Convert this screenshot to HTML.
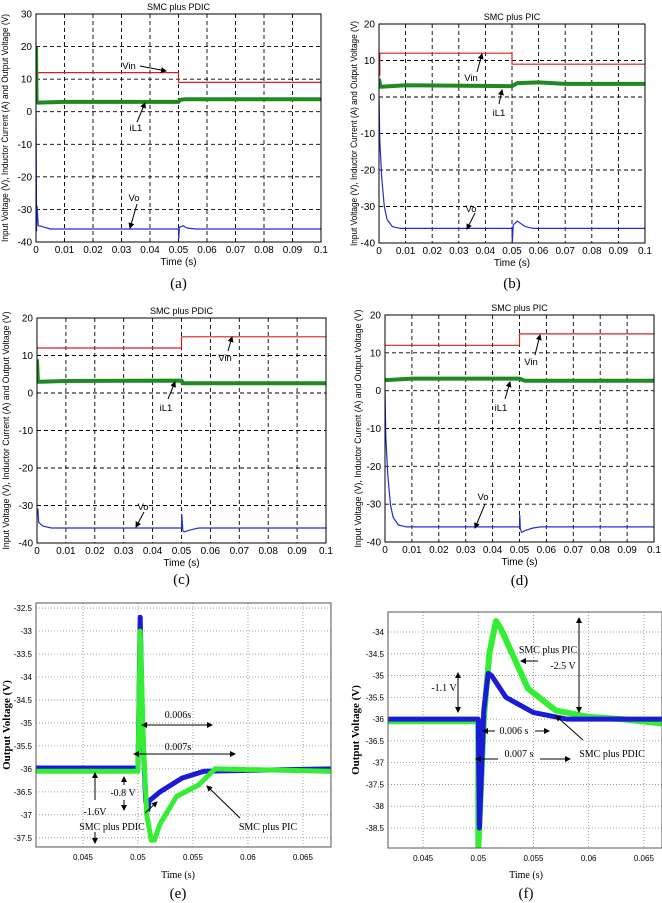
<!DOCTYPE html>
<html><head><meta charset="utf-8"><style>
html,body{margin:0;padding:0;background:#fff;width:662px;height:903px;overflow:hidden}
svg{display:block}
</style></head><body>
<svg id="fig" width="662" height="903" viewBox="0 0 662 903" xmlns="http://www.w3.org/2000/svg">
<defs>
<marker id="ah" markerWidth="6" markerHeight="6" refX="5" refY="3" orient="auto"><path d="M0,0 L6,3 L0,6 z" fill="#000"/></marker>
</defs>
</svg>
<script>
// ---- data arrays ----
const yTicksAB_a = [-40,-30,-20,-10,0,10,20,30];
const yTicksAB_b = [-40,-30,-20,-10,0,10,20];
const xTicksTime = [0,0.01,0.02,0.03,0.04,0.05,0.06,0.07,0.08,0.09,0.1];
const xTickLabelsTime = ["0","0.01","0.02","0.03","0.04","0.05","0.06","0.07","0.08","0.09","0.1"];

// panel a
const aVinT = [0,0.0003,0.0003,0.05,0.05,0.1];
const aVinV = [7,7,12,12,9,9];
const aIlT = [0,0.0002,0.0006,0.01,0.05,0.0505,0.052,0.1];
const aIlV = [20,3,2.8,3,3,3.6,3.8,3.8];
const aVoT = [0,0.0002,0.0004,0.0008,0.002,0.005,0.05,0.0501,0.0503,0.0515,0.053,0.056,0.1];
const aVoV = [0,-36.5,-29,-35,-35.2,-36,-36,-39,-35.5,-35,-35.7,-36,-36];
// panel b
const bVinT = [0,0.0003,0.0003,0.05,0.05,0.1];
const bVinV = [6,6,12,12,9,9];
const bIlT = [0,0.0005,0.01,0.05,0.052,0.06,0.07,0.1];
const bIlV = [5,2.8,3.2,3,3.8,4,3.6,3.6];
const bVoT = [0,0.0003,0.001,0.002,0.003,0.005,0.008,0.05,0.0501,0.0505,0.052,0.055,0.058,0.1];
const bVoV = [0,-12,-22,-30,-33.5,-35.5,-36,-36,-40,-35,-34,-35.5,-36,-36];
// panel c
const cVinT = [0,0.05,0.05,0.1];
const cVinV = [12,12,15,15];
const cIlT = [0,0.0003,0.001,0.01,0.05,0.0505,0.1];
const cIlV = [9,3,3,3.2,3.3,2.6,2.6];
const cVoT = [0,0.0003,0.0006,0.002,0.005,0.05,0.0501,0.0505,0.051,0.053,0.056,0.1];
const cVoV = [-31,-31,-34.5,-35.5,-36,-36,-32.5,-36.8,-37,-36.5,-36,-36];
// panel d
const dVinT = [0,0.05,0.05,0.1];
const dVinV = [12,12,15,15];
const dIlT = [0,0.0005,0.01,0.05,0.052,0.1];
const dIlV = [3,2.8,3.2,3.2,2.6,2.6];
const dVoT = [0,0.0003,0.001,0.002,0.003,0.005,0.008,0.05,0.0501,0.0503,0.0508,0.052,0.055,0.058,0.1];
const dVoV = [0,-12,-22,-30,-33.5,-35.5,-36,-36,-33,-36.5,-37.5,-37,-36.3,-36,-36];
// panel e
const eYTicks = [-32.5,-33,-33.5,-34,-34.5,-35,-35.5,-36,-36.5,-37,-37.5];
const eXTicks = [0.045,0.05,0.055,0.06,0.065];
const eBlueT = [0.0407,0.05,0.0502,0.0504,0.0507,0.0509,0.051,0.052,0.054,0.056,0.0675];
const eBlueV = [-35.98,-35.98,-32.7,-35,-36.7,-36.9,-36.7,-36.5,-36.2,-36.05,-36];
const eGreenT = [0.0407,0.05,0.0502,0.0505,0.0508,0.0512,0.0515,0.052,0.0535,0.0555,0.057,0.0675];
const eGreenV = [-36.05,-36.05,-33,-35.5,-37,-37.55,-37.55,-37.2,-36.6,-36.35,-36,-36.05];
// panel f
const fYTicks = [-34,-34.5,-35,-35.5,-36,-36.5,-37,-37.5,-38,-38.5];
const fXTicks = [0.045,0.05,0.055,0.06,0.065];
const fGreenT = [0.0418,0.05,0.05,0.0505,0.051,0.0516,0.052,0.0545,0.057,0.06,0.063,0.0666];
const fGreenV = [-36.05,-36.05,-39,-36,-34.5,-33.75,-33.9,-35.3,-35.8,-35.95,-36,-36.1];
const fBlueT = [0.0418,0.05,0.0501,0.0505,0.0509,0.0512,0.0525,0.055,0.058,0.0666];
const fBlueV = [-36,-36,-38.5,-35.8,-34.95,-35,-35.5,-35.85,-36,-36];

const NS="http://www.w3.org/2000/svg";
const svg=document.getElementById('fig');
function el(tag,attrs,parent,text){const e=document.createElementNS(NS,tag);for(const k in attrs)e.setAttribute(k,attrs[k]);if(text!==undefined)e.textContent=text;(parent||svg).appendChild(e);return e;}

function axes(p){
  const sx=t=>p.x0+(t-p.t0)/(p.t1-p.t0)*(p.x1-p.x0);
  const sy=v=>p.y1-(v-p.v0)/(p.v1-p.v0)*(p.y1-p.y0);
  return {sx,sy};
}
function line(p,ax,T,V,color,w,name){
  let d='';for(let i=0;i<T.length;i++){d+=(i?'L':'M')+ax.sx(T[i]).toFixed(1)+','+ax.sy(V[i]).toFixed(1);}
  const e=el('path',{d:d,fill:'none',stroke:color,'stroke-width':w,'stroke-linejoin':'round','clip-path':'url(#'+p.id+'clip)'});
  
  
}
function arrow(x1,y1,x2,y2,name,both){
  const a={x1,y1,x2,y2,stroke:'#000','stroke-width':1,'marker-end':'url(#ah)'};
  if(both)a['marker-start']='url(#ahs)';
  const e=el('line',a);
  
  
}
el('marker',{id:'ahs',markerWidth:6,markerHeight:6,refX:1,refY:3,orient:'auto'},svg.querySelector('defs')).appendChild((()=>{const p=document.createElementNS(NS,'path');p.setAttribute('d','M6,0 L0,3 L6,6 z');return p;})());

function simPanel(p){
  const g=el('g',{});
  
  
  const cp=el('clipPath',{id:p.id+'clip'},svg.querySelector('defs'));
  el('rect',{x:p.x0,y:p.y0,width:p.x1-p.x0,height:p.y1-p.y0},cp);
  const ax=axes(p);
  el('rect',{x:p.x0,y:p.y0,width:p.x1-p.x0,height:p.y1-p.y0,fill:'#fff',stroke:'none'});
  xTicksTime.forEach((t,i)=>{
    const x=ax.sx(t);
    if(i>0&&i<xTicksTime.length-1){const gl=el('line',{x1:x,y1:p.y0,x2:x,y2:p.y1,stroke:'#000','stroke-width':0.9,'stroke-dasharray':'4,3'});}
    const tl=el('text',{x:x,y:p.y1+11,'font-size':10,'text-anchor':'middle','font-family':'Liberation Sans, sans-serif'},null,xTickLabelsTime[i]);
    
  });
  p.yt.forEach((v,i)=>{
    const y=ax.sy(v);
    if(i>0&&i<p.yt.length-1){const gl=el('line',{x1:p.x0,y1:y,x2:p.x1,y2:y,stroke:'#000','stroke-width':0.9,'stroke-dasharray':'4,3'});}
    const tl=el('text',{x:p.x0-4,y:y+3.5,'font-size':10,'text-anchor':'end','font-family':'Liberation Sans, sans-serif'},null,String(v));
    
  });
  line(p,ax,p.vinT,p.vinV,'#d62020',1.2,'vin-line');
  line(p,ax,p.ilT,p.ilV,'#1f8a1f',4,'il1-line');
  line(p,ax,p.voT,p.voV,'#2030d0',1.2,'vo-line');
  const fr=el('rect',{x:p.x0,y:p.y0,width:p.x1-p.x0,height:p.y1-p.y0,fill:'none',stroke:'#000','stroke-width':1});
  
  const ti=el('text',{x:(p.x0+p.x1)/2,y:p.y0-4,'font-size':9,'text-anchor':'middle','font-family':'Liberation Sans, sans-serif'},null,p.title);
  
  const xl=el('text',{x:(p.x0+p.x1)/2,y:p.y1+23,'font-size':10,'text-anchor':'middle','font-family':'Liberation Sans, sans-serif'},null,'Time (s)');
  
  const yc=(p.y0+p.y1)/2;
  const yl=el('text',{x:p.ylx,y:yc,'font-size':9.5,'text-anchor':'middle','font-family':'Liberation Sans, sans-serif',transform:'rotate(-90 '+p.ylx+' '+yc+')',textLength:p.ylen,lengthAdjust:'spacingAndGlyphs'},null,'Input Voltage (V), Inductor Current (A) and Output Voltage (V)');
  
  const cap=el('text',{x:(p.x0+p.x1)/2,y:p.capy,'font-size':15,'text-anchor':'middle','font-family':'Liberation Serif, serif'},null,p.cap);
  
  p.ann.forEach(a=>{
    const t=el('text',{x:a[0],y:a[1],'font-size':9.5,'text-anchor':'middle','font-family':'Liberation Sans, sans-serif'},null,a[2]);
    
    arrow(a[3],a[4],a[5],a[6],'annotation-arrow');
  });
}

simPanel({id:'a',x0:36,x1:321,y0:14,y1:242,t0:0,t1:0.1,v0:-40,v1:30,yt:yTicksAB_a,title:'SMC plus PDIC',cap:'(a)',capy:288,ylx:8,ylen:228,
  vinT:aVinT,vinV:aVinV,ilT:aIlT,ilV:aIlV,voT:aVoT,voV:aVoV,
  ann:[[129,69,'Vin',140,66,166,71],[136,131,'iL1',137,122,145,103],[134,201,'Vo',137,204,130,228]]});
simPanel({id:'b',x0:379,x1:645,y0:24,y1:243,t0:0,t1:0.1,v0:-40,v1:20,yt:yTicksAB_b,title:'SMC plus PIC',cap:'(b)',capy:288,ylx:357,ylen:225,
  vinT:bVinT,vinV:bVinV,ilT:bIlT,ilV:bIlV,voT:bVoT,voV:bVoV,
  ann:[[471,81,'Vin',477,72,482,54],[499,116,'iL1',499,104,502,90],[471,212,'Vo',475,213,467,229]]});
simPanel({id:'c',x0:37,x1:326,y0:318,y1:543,t0:0,t1:0.1,v0:-40,v1:20,yt:yTicksAB_b,title:'SMC plus PDIC',cap:'(c)',capy:584,ylx:9,ylen:238,
  vinT:cVinT,vinV:cVinV,ilT:cIlT,ilV:cIlV,voT:cVoT,voV:cVoV,
  ann:[[225,361,'Vin',228,351,232,337],[166,411,'iL1',168,399,175,382],[143,510,'Vo',144,512,136,527]]});
simPanel({id:'d',x0:385,x1:654,y0:315,y1:542,t0:0,t1:0.1,v0:-40,v1:20,yt:yTicksAB_b,title:'SMC plus PIC',cap:'(d)',capy:585,ylx:361,ylen:238,
  vinT:dVinT,vinV:dVinV,ilT:dIlT,ilV:dIlV,voT:dVoT,voV:dVoV,
  ann:[[531,365,'Vin',535,355,540,335],[501,411,'iL1',505,399,510,382],[483,500,'Vo',485,504,475,528]]});

function zoomPanel(p){
  const g=el('g',{});
  
  
  const cp=el('clipPath',{id:p.id+'clip'},svg.querySelector('defs'));
  el('rect',{x:p.x0,y:p.y0,width:p.x1-p.x0,height:p.y1-p.y0},cp);
  const ax=axes(p);
  p.xt.forEach(t=>{
    const x=ax.sx(t);
    const gl=el('line',{x1:x,y1:p.y0,x2:x,y2:p.y1,stroke:'#888','stroke-width':0.8,'stroke-dasharray':'1,2'});
    const tl=el('text',{x:x,y:p.y1+13,'font-size':8,'text-anchor':'middle','font-family':'Liberation Sans Narrow, Liberation Sans, sans-serif'},null,String(t));
    
  });
  p.yt.forEach(v=>{
    const y=ax.sy(v);
    const gl=el('line',{x1:p.x0,y1:y,x2:p.x1,y2:y,stroke:'#888','stroke-width':0.8,'stroke-dasharray':'1,2'});
    const tl=el('text',{x:p.x0-4,y:y+3,'font-size':8,'text-anchor':'end','font-family':'Liberation Sans Narrow, Liberation Sans, sans-serif'},null,String(v));
    
  });
  p.series.forEach(s=>line(p,ax,s[0],s[1],s[2],s[3],s[4]));
  const fr=el('rect',{x:p.x0,y:p.y0,width:p.x1-p.x0,height:p.y1-p.y0,fill:'none',stroke:'#555','stroke-width':1});
  
  const xl=el('text',{x:p.xlx,y:p.xly,'font-size':10,'text-anchor':'middle','font-family':'Liberation Serif, serif'},null,'Time (s)');
  
  const yc=(p.y0+p.y1)/2;
  const yl=el('text',{x:p.ylx,y:yc,'font-size':11,'font-weight':'bold','text-anchor':'middle','font-family':'Liberation Serif, serif',transform:'rotate(-90 '+p.ylx+' '+yc+')'},null,'Output Voltage (V)');
  
  const cap=el('text',{x:p.xlx,y:p.capy,'font-size':15,'text-anchor':'middle','font-family':'Liberation Serif, serif'},null,p.cap);
  
  p.texts.forEach(a=>{
    const t=el('text',{x:a[0],y:a[1],'font-size':10,'text-anchor':'middle','font-family':'Liberation Serif, serif'},null,a[2]);
    
  });
  p.arrows.forEach(a=>arrow(a[0],a[1],a[2],a[3],'annotation-arrow',a[4]));
}

zoomPanel({id:'e',x0:36,x1:331,y0:603,y1:847,t0:0.04073,t1:0.06755,v0:-37.7,v1:-32.39,xt:eXTicks,yt:eYTicks,cap:'(e)',capy:898,xlx:178,xly:878,ylx:10,
  series:[[eBlueT,eBlueV,'#1a1ad8',5,'smc-pdic-line'],[eGreenT,eGreenV,'#33ee33',5,'smc-pic-line']],
  texts:[[178,718,'0.006s'],[178,750,'0.007s'],[123,796,'-0.8 V'],[95,815,'-1.6V'],[112,830,'SMC plus PDIC'],[268,830,'SMC plus PIC']],
  arrows:[[142,725,212,725,true],[134,754,235,754,true],[124,785,124,777],[124,800,124,810],[95,800,95,773],[95,832,95,843],[145,813,157,802],[240,818,207,786]]});
zoomPanel({id:'f',x0:388,x1:662,y0:612,y1:848,t0:0.04182,t1:0.06664,v0:-38.96,v1:-33.54,xt:fXTicks,yt:fYTicks,cap:'(f)',capy:898,xlx:526,xly:878,ylx:359,
  series:[[fGreenT,fGreenV,'#33ee33',6,'smc-pic-line'],[fBlueT,fBlueV,'#1a1ad8',5,'smc-pdic-line']],
  texts:[[548,653,'SMC plus PIC'],[563,669,'-2.5 V'],[444,691,'-1.1 V'],[514,734,'0.006 s'],[519,757,'0.007 s'],[612,757,'SMC plus PDIC']],
  arrows:[[538,661,521,661],[579,618,579,712,true],[458,673,458,712,true],[495,731,483,731],[535,731,549,731],[498,759,476,759],[540,759,570,759],[583,740,556,716]]});
</script>
</body></html>
